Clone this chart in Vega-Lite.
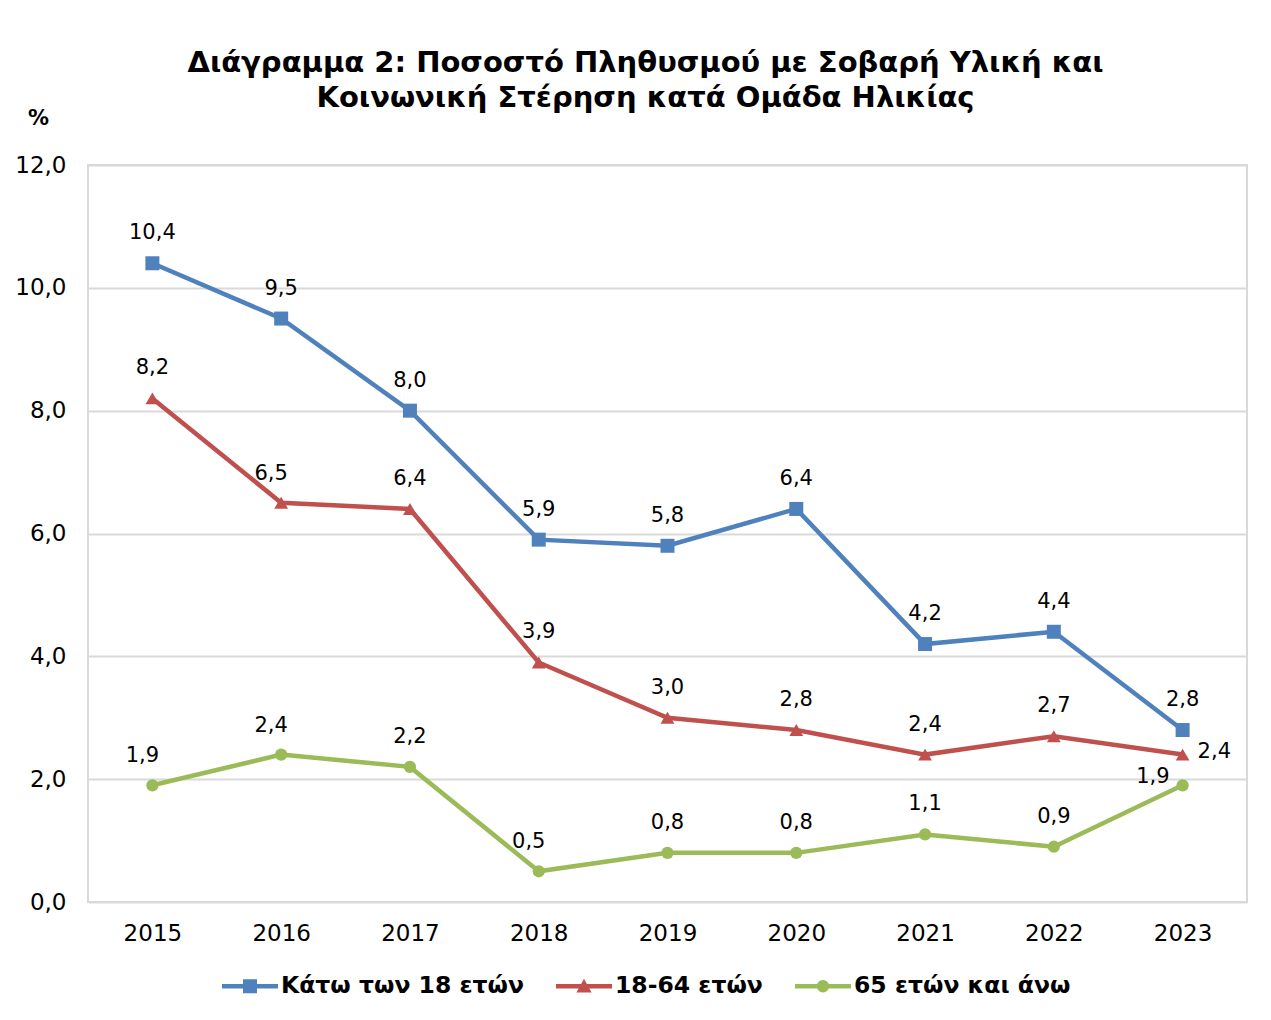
{
  "$schema": "https://vega.github.io/schema/vega-lite/v6.json",
  "autosize": {"type": "none"},
  "width": 1159,
  "height": 737,
  "padding": {"left": 88, "top": 165, "right": 24, "bottom": 118},
  "background": "white",
  "config": {
    "locale": {"number": {"decimal": ",", "thousands": ".", "grouping": [3], "currency": ["", "€"]}},
    "font": "DejaVu Sans",
    "view": {"stroke": "#d9d9d9", "strokeWidth": 2}
  },
  "title": {
    "text": ["Διάγραμμα 2: Ποσοστό Πληθυσμού με Σοβαρή Υλική και", "Κοινωνική Στέρηση κατά Ομάδα Ηλικίας"],
    "font": "DejaVu Sans",
    "fontSize": 29,
    "fontWeight": "bold",
    "color": "#000000",
    "anchor": "middle",
    "dx": -22,
    "lineHeight": 35,
    "offset": -6
  },
  "data": {
    "values": [
      {"year": "2015", "series": "Κάτω των 18 ετών", "value": 10.4},
      {"year": "2016", "series": "Κάτω των 18 ετών", "value": 9.5},
      {"year": "2017", "series": "Κάτω των 18 ετών", "value": 8.0},
      {"year": "2018", "series": "Κάτω των 18 ετών", "value": 5.9},
      {"year": "2019", "series": "Κάτω των 18 ετών", "value": 5.8},
      {"year": "2020", "series": "Κάτω των 18 ετών", "value": 6.4},
      {"year": "2021", "series": "Κάτω των 18 ετών", "value": 4.2},
      {"year": "2022", "series": "Κάτω των 18 ετών", "value": 4.4},
      {"year": "2023", "series": "Κάτω των 18 ετών", "value": 2.8},
      {"year": "2015", "series": "18-64 ετών", "value": 8.2},
      {"year": "2016", "series": "18-64 ετών", "value": 6.5},
      {"year": "2017", "series": "18-64 ετών", "value": 6.4},
      {"year": "2018", "series": "18-64 ετών", "value": 3.9},
      {"year": "2019", "series": "18-64 ετών", "value": 3.0},
      {"year": "2020", "series": "18-64 ετών", "value": 2.8},
      {"year": "2021", "series": "18-64 ετών", "value": 2.4},
      {"year": "2022", "series": "18-64 ετών", "value": 2.7},
      {"year": "2023", "series": "18-64 ετών", "value": 2.4},
      {"year": "2015", "series": "65 ετών και άνω", "value": 1.9},
      {"year": "2016", "series": "65 ετών και άνω", "value": 2.4},
      {"year": "2017", "series": "65 ετών και άνω", "value": 2.2},
      {"year": "2018", "series": "65 ετών και άνω", "value": 0.5},
      {"year": "2019", "series": "65 ετών και άνω", "value": 0.8},
      {"year": "2020", "series": "65 ετών και άνω", "value": 0.8},
      {"year": "2021", "series": "65 ετών και άνω", "value": 1.1},
      {"year": "2022", "series": "65 ετών και άνω", "value": 0.9},
      {"year": "2023", "series": "65 ετών και άνω", "value": 1.9}
    ]
  },
  "encoding": {
    "x": {
      "field": "year", "type": "ordinal",
      "scale": {"type": "point", "padding": 0.5},
      "axis": {
        "title": null, "labelAngle": 0, "ticks": false, "domain": false, "grid": false,
        "labelFontSize": 23, "labelColor": "#000000", "labelPadding": 20, "labelFont": "DejaVu Sans"
      }
    },
    "y": {
      "field": "value", "type": "quantitative",
      "scale": {"domain": [0, 12], "nice": false},
      "axis": {
        "title": "%", "titleAngle": 0, "titleX": -50, "titleY": -47, "titleFontSize": 21, "titleFontWeight": "bold",
        "titleColor": "#000000", "titleFont": "DejaVu Sans", "titleAlign": "center", "titleBaseline": "middle",
        "values": [0, 2, 4, 6, 8, 10, 12], "format": ".1f",
        "ticks": false, "domain": false, "gridColor": "#d9d9d9", "gridWidth": 2,
        "labelFontSize": 23, "labelColor": "#000000", "labelPadding": 22, "labelFont": "DejaVu Sans"
      }
    },
    "color": {
      "field": "series", "type": "nominal",
      "scale": {
        "domain": ["Κάτω των 18 ετών", "18-64 ετών", "65 ετών και άνω"],
        "range": ["#4f81bd", "#c0504d", "#9bbb59"]
      }
    }
  },
  "layer": [
    {
      "mark": {"type": "line", "strokeWidth": 4.5},
      "encoding": {
        "color": {
          "field": "series", "type": "nominal",
          "legend": {
            "title": null,
            "orient": "none",
            "direction": "horizontal",
            "legendX": 134,
            "legendY": 793,
            "symbolSize": 3136,
            "symbolStrokeWidth": 0,
            "labelFontSize": 23.5,
            "labelFontWeight": "bold",
            "labelColor": "#000000",
            "labelFont": "DejaVu Sans",
            "labelLimit": 500,
            "labelOffset": 3,
            "columnPadding": 32,
            "encode": {
              "symbols": {
                "update": {
                  "shape": {"signal": "datum.value == 'Κάτω των 18 ετών' ? 'M-1,-0.08H1V0.08H-1Z M-0.25,-0.25H0.25V0.25H-0.25Z' : datum.value == '18-64 ετών' ? 'M-1,-0.08H1V0.08H-1Z M0,-0.27L0.27,0.22H-0.27Z' : 'M-1,-0.08H1V0.08H-1Z M0.22,0A0.22,0.22 0 1,1 -0.22,0A0.22,0.22 0 1,1 0.22,0Z'"},
                  "fill": {"scale": "color", "field": "value"},
                  "strokeWidth": {"value": 0},
                  "opacity": {"value": 1}
                }
              }
            }
          }
        }
      }
    },
    {
      "transform": [{"filter": "datum.series == 'Κάτω των 18 ετών'"}],
      "mark": {"type": "point", "filled": true, "opacity": 1, "shape": "square", "size": 196}
    },
    {
      "transform": [{"filter": "datum.series == '18-64 ετών'"}],
      "mark": {"type": "point", "filled": true, "opacity": 1, "shape": "triangle-up", "size": 190}
    },
    {
      "transform": [{"filter": "datum.series == '65 ετών και άνω'"}],
      "mark": {"type": "point", "filled": true, "opacity": 1, "shape": "circle", "size": 150}
    },
    {
      "transform": [{"filter": "!(datum.year == '2023' && datum.series != 'Κάτω των 18 ετών') && !((datum.year == '2016' && datum.series != 'Κάτω των 18 ετών') || (datum.series == '65 ετών και άνω' && (datum.year == '2015' || datum.year == '2018')))"}],
      "mark": {"type": "text", "fontSize": 21, "dy": -30, "font": "DejaVu Sans"},
      "encoding": {
        "text": {"field": "value", "type": "quantitative", "format": ".1f"},
        "color": {"value": "#000000"}
      }
    },
    {
      "transform": [{"filter": "(datum.year == '2016' && datum.series != 'Κάτω των 18 ετών') || (datum.series == '65 ετών και άνω' && (datum.year == '2015' || datum.year == '2018'))"}],
      "mark": {"type": "text", "fontSize": 21, "dy": -29, "dx": -10, "font": "DejaVu Sans"},
      "encoding": {
        "text": {"field": "value", "type": "quantitative", "format": ".1f"},
        "color": {"value": "#000000"}
      }
    },
    {
      "transform": [{"filter": "datum.year == '2023' && datum.series == '18-64 ετών'"}],
      "mark": {"type": "text", "fontSize": 21, "align": "left", "dx": 15, "dy": -3, "font": "DejaVu Sans"},
      "encoding": {
        "text": {"field": "value", "type": "quantitative", "format": ".1f"},
        "color": {"value": "#000000"}
      }
    },
    {
      "transform": [{"filter": "datum.year == '2023' && datum.series == '65 ετών και άνω'"}],
      "mark": {"type": "text", "fontSize": 21, "align": "right", "dx": -13, "dy": -8, "font": "DejaVu Sans"},
      "encoding": {
        "text": {"field": "value", "type": "quantitative", "format": ".1f"},
        "color": {"value": "#000000"}
      }
    }
  ]
}
